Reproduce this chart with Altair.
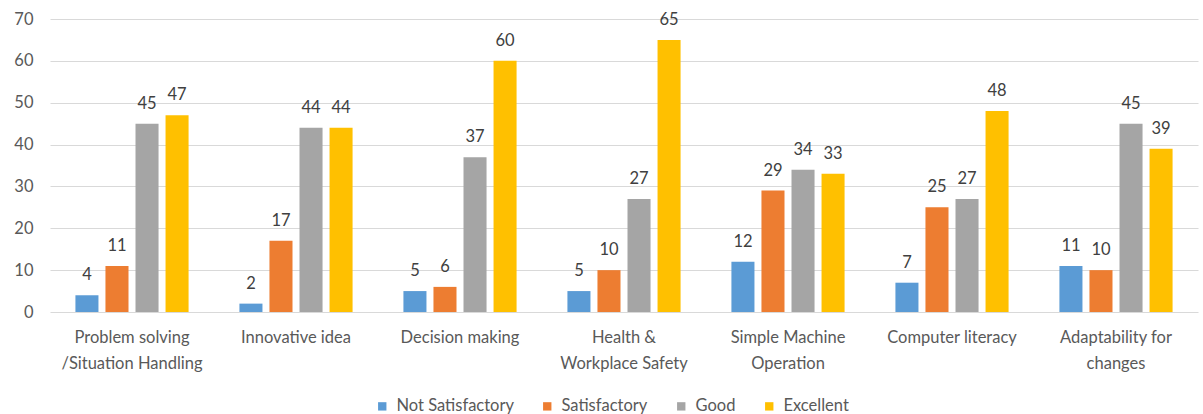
import altair as alt
import pandas as pd

categories = [
    "Problem solving|/Situation Handling",
    "Innovative idea",
    "Decision making",
    "Health &|Workplace Safety",
    "Simple Machine|Operation",
    "Computer literacy",
    "Adaptability for|changes",
]
series = ["Not Satisfactory", "Satisfactory", "Good", "Excellent"]
colors = ["#5B9BD5", "#ED7D31", "#A5A5A5", "#FFC000"]

not_satisfactory = [4, 2, 5, 5, 12, 7, 11]
satisfactory = [11, 17, 6, 10, 29, 25, 10]
good = [45, 44, 37, 27, 34, 27, 45]
excellent = [47, 44, 60, 65, 33, 48, 39]

rows = []
for s, vals in zip(series, [not_satisfactory, satisfactory, good, excellent]):
    for c, v in zip(categories, vals):
        rows.append({"Category": c, "Rating": s, "Value": v})
df = pd.DataFrame(rows)

FONT = "Lato"
FS = 16.5

base = alt.Chart(df).encode(
    x=alt.X("Category:N", sort=categories,
            scale=alt.Scale(paddingInner=0.31, paddingOuter=0.155),
            axis=alt.Axis(title=None, labelAngle=0, labelExpr="split(datum.label, '|')",
                          labelFontSize=FS, labelColor="#595959", labelFont=FONT,
                          labelPadding=17, labelLineHeight=26, ticks=False, domain=False,
                          labelBaseline="top")),
    xOffset=alt.XOffset("Rating:N", sort=series,
                        scale=alt.Scale(paddingInner=0.233, paddingOuter=0)),
    y=alt.Y("Value:Q", scale=alt.Scale(domain=[0, 70]),
            axis=alt.Axis(title=None, values=list(range(0, 71, 10)), labelFontSize=FS,
                          labelColor="#595959", labelFont=FONT, labelPadding=17,
                          ticks=False, domain=False, gridColor="#D9D9D9")),
)

bars = base.mark_bar().encode(
    color=alt.Color("Rating:N", sort=series,
                    scale=alt.Scale(domain=series, range=colors),
                    legend=alt.Legend(title=None, orient="none", direction="horizontal",
                                      legendX=324, legendY=379, symbolType="square",
                                      symbolSize=70, symbolStrokeWidth=0,
                                      labelFontSize=FS, labelColor="#595959",
                                      labelFont=FONT, columnPadding=25, labelOffset=6))
)

labels = base.mark_text(baseline="alphabetic", dy=-15, fontSize=FS, color="#404040",
                        font=FONT).encode(text="Value:Q")

chart = (bars + labels).properties(
    width=1148, height=293,
    padding={"left": 50, "top": 19, "right": 5, "bottom": 102},
    autosize=alt.AutoSizeParams(type="none"),
).configure_view(stroke=None)

chart.save("out.html", embed_options={"renderer": "svg", "actions": False})
